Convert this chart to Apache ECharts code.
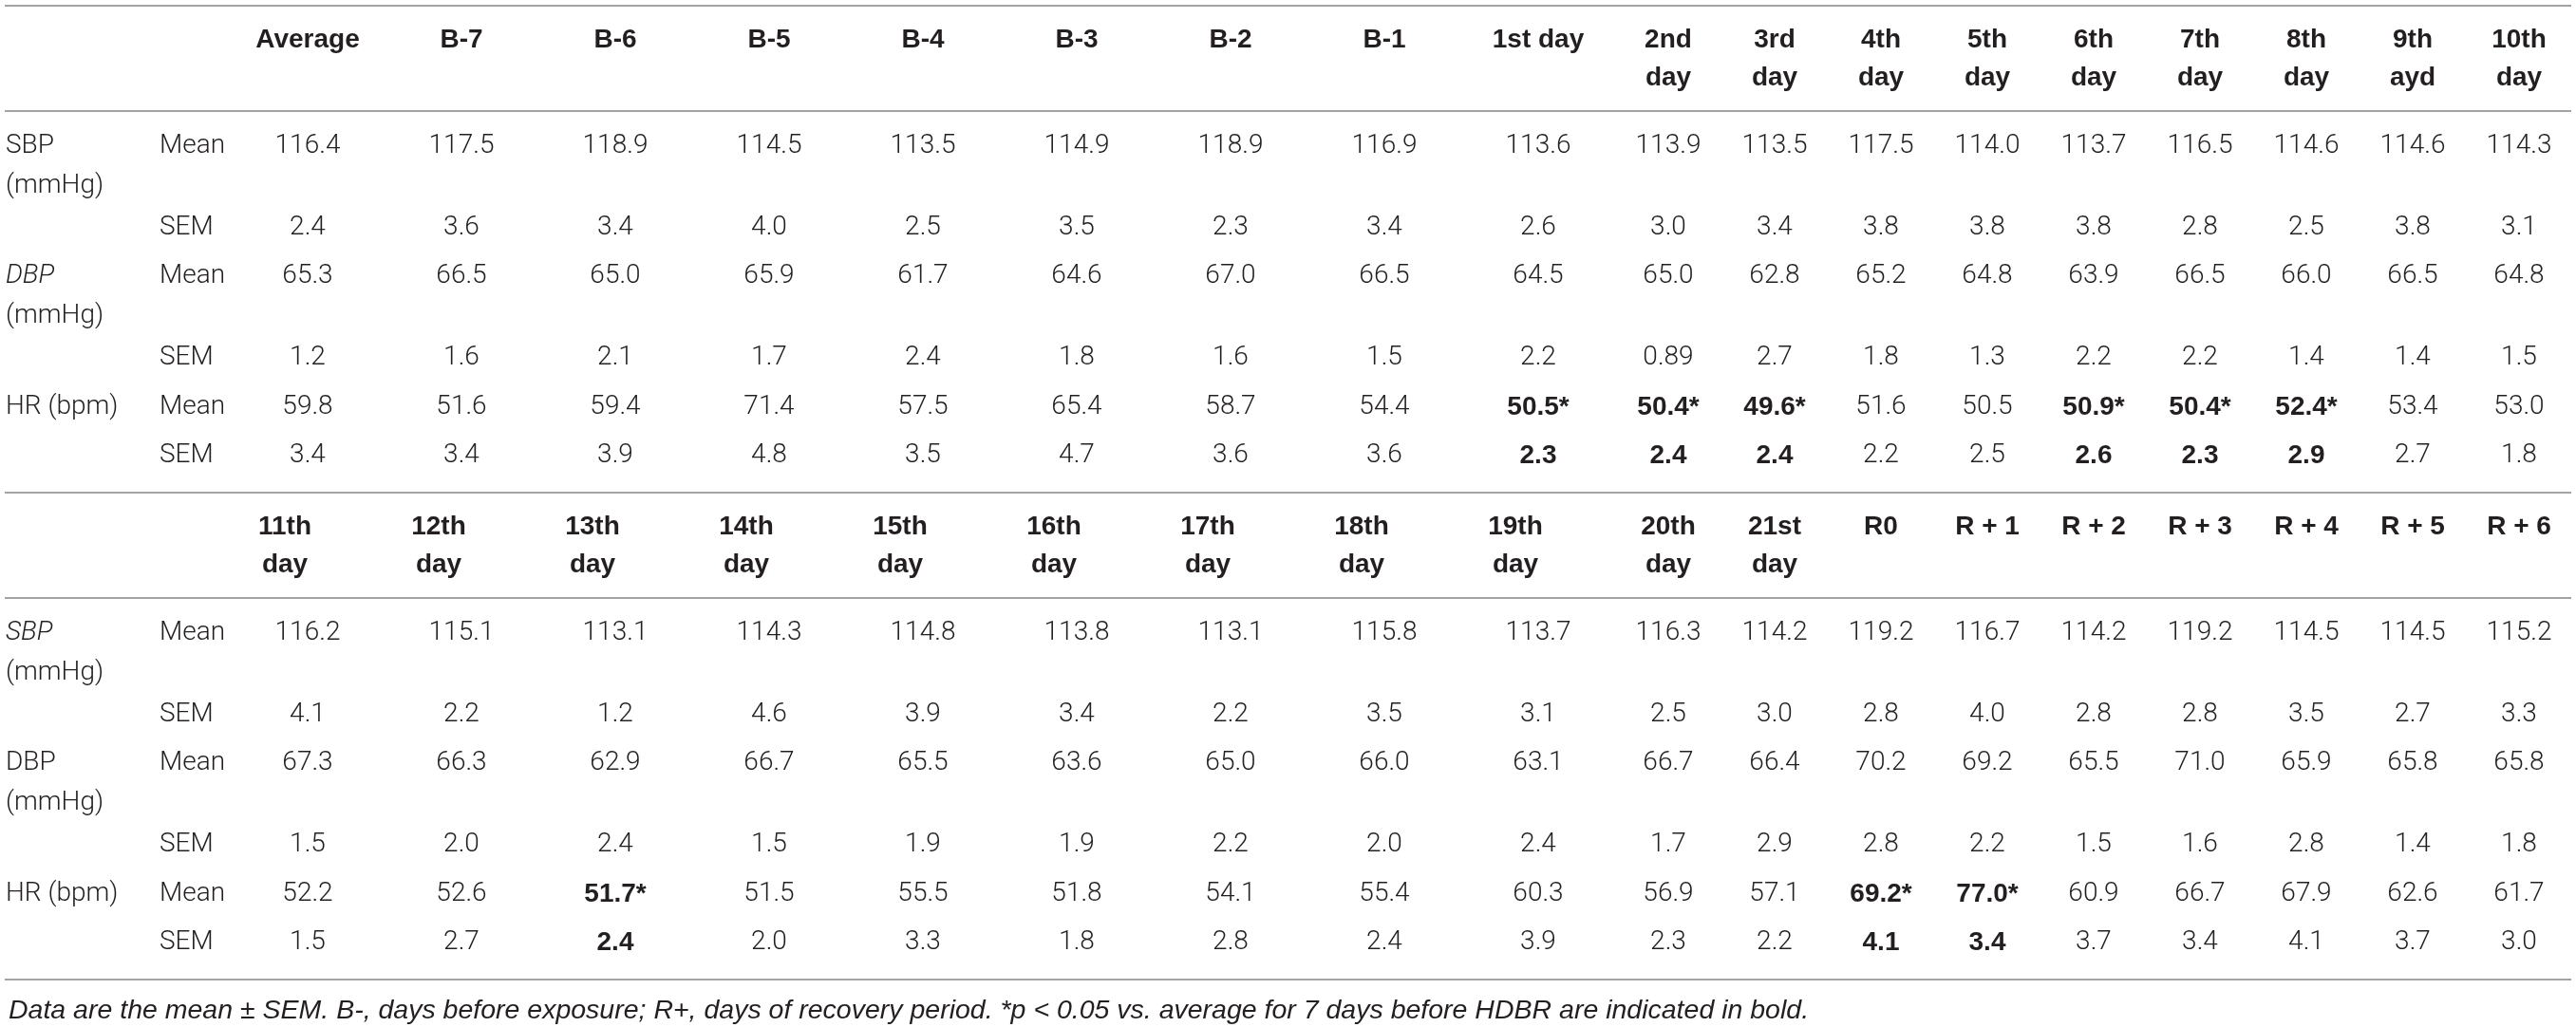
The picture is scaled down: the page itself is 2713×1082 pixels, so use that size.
<!DOCTYPE html>
<html>
<head>
    <meta charset="UTF-8">
    <title>Blood pressure and heart rate during HDBR</title>
    <script src="https://cdn.jsdelivr.net/npm/echarts@6/dist/echarts.min.js"></script>
</head>
<body style="margin: 0; background: #fff">
    <div id="container" style="width: 2713px; height: 1082px"></div>
    <script type="text/javascript">
        // ---- data: top block ----
        var cols1 = ['Average', 'B-7', 'B-6', 'B-5', 'B-4', 'B-3', 'B-2', 'B-1', '1st day',
            '2nd\nday', '3rd\nday', '4th\nday', '5th\nday', '6th\nday', '7th\nday', '8th\nday', '9th\nayd', '10th\nday'];
        var sbpMean1 = [116.4, 117.5, 118.9, 114.5, 113.5, 114.9, 118.9, 116.9, 113.6, 113.9, 113.5, 117.5, 114.0, 113.7, 116.5, 114.6, 114.6, 114.3];
        var sbpSem1 = [2.4, 3.6, 3.4, 4.0, 2.5, 3.5, 2.3, 3.4, 2.6, 3.0, 3.4, 3.8, 3.8, 3.8, 2.8, 2.5, 3.8, 3.1];
        var dbpMean1 = [65.3, 66.5, 65.0, 65.9, 61.7, 64.6, 67.0, 66.5, 64.5, 65.0, 62.8, 65.2, 64.8, 63.9, 66.5, 66.0, 66.5, 64.8];
        var dbpSem1 = [1.2, 1.6, 2.1, 1.7, 2.4, 1.8, 1.6, 1.5, 2.2, 0.89, 2.7, 1.8, 1.3, 2.2, 2.2, 1.4, 1.4, 1.5];
        var hrMean1 = [59.8, 51.6, 59.4, 71.4, 57.5, 65.4, 58.7, 54.4, 50.5, 50.4, 49.6, 51.6, 50.5, 50.9, 50.4, 52.4, 53.4, 53.0];
        var hrSem1 = [3.4, 3.4, 3.9, 4.8, 3.5, 4.7, 3.6, 3.6, 2.3, 2.4, 2.4, 2.2, 2.5, 2.6, 2.3, 2.9, 2.7, 1.8];
        var sig1 = [8, 9, 10, 13, 14, 15];

        // ---- data: bottom block ----
        var cols2 = ['11th\nday', '12th\nday', '13th\nday', '14th\nday', '15th\nday', '16th\nday', '17th\nday', '18th\nday', '19th\nday',
            '20th\nday', '21st\nday', 'R0', 'R + 1', 'R + 2', 'R + 3', 'R + 4', 'R + 5', 'R + 6'];
        var sbpMean2 = [116.2, 115.1, 113.1, 114.3, 114.8, 113.8, 113.1, 115.8, 113.7, 116.3, 114.2, 119.2, 116.7, 114.2, 119.2, 114.5, 114.5, 115.2];
        var sbpSem2 = [4.1, 2.2, 1.2, 4.6, 3.9, 3.4, 2.2, 3.5, 3.1, 2.5, 3.0, 2.8, 4.0, 2.8, 2.8, 3.5, 2.7, 3.3];
        var dbpMean2 = [67.3, 66.3, 62.9, 66.7, 65.5, 63.6, 65.0, 66.0, 63.1, 66.7, 66.4, 70.2, 69.2, 65.5, 71.0, 65.9, 65.8, 65.8];
        var dbpSem2 = [1.5, 2.0, 2.4, 1.5, 1.9, 1.9, 2.2, 2.0, 2.4, 1.7, 2.9, 2.8, 2.2, 1.5, 1.6, 2.8, 1.4, 1.8];
        var hrMean2 = [52.2, 52.6, 51.7, 51.5, 55.5, 51.8, 54.1, 55.4, 60.3, 56.9, 57.1, 69.2, 77.0, 60.9, 66.7, 67.9, 62.6, 61.7];
        var hrSem2 = [1.5, 2.7, 2.4, 2.0, 3.3, 1.8, 2.8, 2.4, 3.9, 2.3, 2.2, 4.1, 3.4, 3.7, 3.4, 4.1, 3.7, 3.0];
        var sig2 = [2, 11, 12];

        var footnote = 'Data are the mean ± SEM. B-, days before exposure; R+, days of recovery period. *p < 0.05 vs. average for 7 days before HDBR are indicated in bold.';

        // ---- layout (pixels) ----
        var W = 2713, H = 1082;
        var labelX = [6, 168];
        var firstColX = 243;
        var colW = [162, 162, 162, 162, 162, 162, 162, 162, 162, 112, 112, 112, 112, 112, 112, 112, 112, 112];
        var sectionTop = [6, 519];
        var headLine = [36, 76];
        var dividerOff = 111;
        var rowOff = [37, 123, 174, 260, 312, 363];
        var subGap = 42;
        var bottomOff = 402;
        var headShift2 = -24;   // wrapped headers in wide columns of the lower block sit left of centre

        var ink = '#231f20';
        var bodyFont = { fontFamily: 'Roboto', fontWeight: 300, fontSize: 28 };
        var boldFont = { fontFamily: 'Liberation Sans', fontWeight: 'bold', fontSize: 28 };

        function colCenter(i) {
            var x = firstColX;
            for (var k = 0; k < i; k++) x += colW[k];
            return x + colW[i] / 2;
        }
        function fmt(v) {
            return v < 1 ? v.toFixed(2) : v.toFixed(1);
        }

        var sections = [{
            cols: cols1, sig: sig1, shift: 0,
            rows: [
                { stub: [['SBP', false], ['(mmHg)', false]], stat: 'Mean', vals: sbpMean1 },
                { stat: 'SEM', vals: sbpSem1 },
                { stub: [['DBP', true], ['(mmHg)', false]], stat: 'Mean', vals: dbpMean1 },
                { stat: 'SEM', vals: dbpSem1 },
                { stub: [['HR (bpm)', false]], stat: 'Mean', vals: hrMean1, mark: true },
                { stat: 'SEM', vals: hrSem1, mark: false }
            ]
        }, {
            cols: cols2, sig: sig2, shift: headShift2,
            rows: [
                { stub: [['SBP', true], ['(mmHg)', false]], stat: 'Mean', vals: sbpMean2 },
                { stat: 'SEM', vals: sbpSem2 },
                { stub: [['DBP', false], ['(mmHg)', false]], stat: 'Mean', vals: dbpMean2 },
                { stat: 'SEM', vals: dbpSem2 },
                { stub: [['HR (bpm)', false]], stat: 'Mean', vals: hrMean2, mark: true },
                { stat: 'SEM', vals: hrSem2, mark: false }
            ]
        }];

        // build cells and rules
        var cells = [];
        var rules = [];
        sections.forEach(function (sec, s) {
            var top = sectionTop[s];
            var div = top + dividerOff;
            rules.push(top);
            rules.push(div);
            if (s === sections.length - 1) rules.push(div + bottomOff);

            sec.cols.forEach(function (name, i) {
                var lines = name.split('\n');
                var cx = colCenter(i);
                if (lines.length > 1 && colW[i] > 150) cx += sec.shift;
                lines.forEach(function (ln, j) {
                    cells.push({ x: cx, y: top + headLine[j], text: ln, font: boldFont, align: 'center' });
                });
            });

            sec.rows.forEach(function (row, r) {
                var y = div + rowOff[r];
                if (row.stub) {
                    row.stub.forEach(function (st, j) {
                        cells.push({ x: labelX[0], y: y + j * subGap, text: st[0], font: bodyFont, italic: st[1], align: 'left' });
                    });
                }
                cells.push({ x: labelX[1], y: y, text: row.stat, font: bodyFont, align: 'left' });
                row.vals.forEach(function (v, i) {
                    var bold = row.mark !== undefined && sec.sig.indexOf(i) >= 0;
                    var t = fmt(v) + (bold && row.mark ? '*' : '');
                    cells.push({ x: colCenter(i), y: y, text: t, font: bold ? boldFont : bodyFont, align: 'center' });
                });
            });
        });

        var dom = document.getElementById('container');
        var myChart = echarts.init(dom);
        var option = {
            animation: false,
            backgroundColor: '#fff',
            title: {
                text: footnote,
                left: 4,
                top: 1046,
                textStyle: {
                    color: ink,
                    fontFamily: 'Liberation Sans',
                    fontWeight: 'normal',
                    fontStyle: 'italic',
                    fontSize: 28.5
                }
            },
            grid: { left: 0, right: 0, top: 0, bottom: 0 },
            xAxis: { type: 'value', min: 0, max: W, show: false },
            yAxis: { type: 'value', min: 0, max: H, inverse: true, show: false },
            series: [{
                // horizontal rules
                type: 'custom',
                silent: true,
                data: rules.map(function (y) { return [5, y, 2708]; }),
                renderItem: function (params, api) {
                    var a = api.coord([api.value(0), api.value(1)]);
                    var b = api.coord([api.value(2), api.value(1)]);
                    return {
                        type: 'line',
                        shape: { x1: a[0], y1: a[1], x2: b[0], y2: b[1] },
                        style: { stroke: '#a3a3a3', lineWidth: 2 }
                    };
                }
            }, {
                // table cells
                type: 'custom',
                silent: true,
                data: cells.map(function (c) { return [c.x, c.y]; }),
                renderItem: function (params, api) {
                    var c = cells[params.dataIndex];
                    var p = api.coord([api.value(0), api.value(1)]);
                    return {
                        type: 'text',
                        x: p[0],
                        y: p[1],
                        style: {
                            text: c.text,
                            fill: ink,
                            fontFamily: c.font.fontFamily,
                            fontWeight: c.font.fontWeight,
                            fontSize: c.font.fontSize,
                            fontStyle: c.italic ? 'italic' : 'normal',
                            align: c.align,
                            verticalAlign: 'middle'
                        }
                    };
                }
            }]
        };
        myChart.setOption(option);
    </script>
</body>
</html>
